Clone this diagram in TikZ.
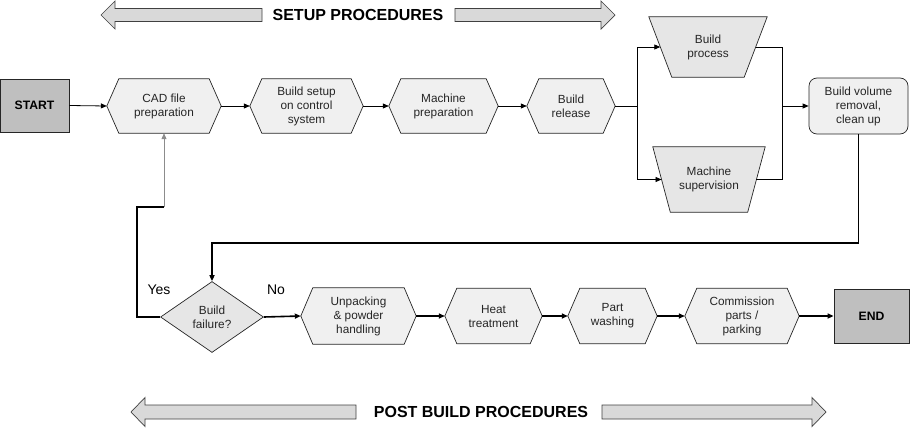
\documentclass[tikz,border=0pt]{standalone}
\usepackage{fontspec}
\setmainfont{Liberation Sans}
\usetikzlibrary{shapes.geometric,arrows.meta}
\pgfdeclarelayer{background}
\pgfsetlayers{background,main}
\definecolor{hexfill}{HTML}{F0F0F0}
\definecolor{endfill}{HTML}{BFBFBF}
\definecolor{trapfill}{HTML}{E6E6E6}
\definecolor{bigfill}{HTML}{D9D9D9}
\definecolor{bigline}{HTML}{404040}
\tikzset{
  boxtext/.style={font=\fontsize{11.8}{14}\selectfont, text=black!85, align=center, inner sep=0pt},
  hexbox/.style={boxtext, rectangle, minimum height=54pt},
  trapbox/.style={boxtext, rectangle},
  termbox/.style={rectangle, draw=black!85, fill=endfill, line width=0.8pt, font=\fontsize{12.2}{14}\selectfont\bfseries, inner sep=0pt},
  outline/.style={draw=black!85, line width=0.7pt},
  thin arrow/.style={-{Triangle[length=6pt,width=5pt]}, line width=0.8pt, black},
  thick arrow/.style={-{Triangle[length=6pt,width=5pt]}, line width=1.6pt, black},
  thick line/.style={line width=1.6pt, black},
  biglabel/.style={font=\fontsize{16}{18}\selectfont\bfseries, inner sep=0pt},
  yesno/.style={font=\fontsize{14}{16}\selectfont, inner sep=0pt},
}
\begin{document}
\begin{tikzpicture}[x=1pt,y=-1pt]
\useasboundingbox (0,0) rectangle (922,434);

% ---- big direction arrows ----
\draw[fill=bigfill, draw=bigline, line width=0.7pt]
  (101,15) -- (115,1) -- (115,8.5) -- (262,8.5) -- (262,21.5) -- (115,21.5) -- (115,29) -- cycle;
\draw[fill=bigfill, draw=bigline, line width=0.7pt]
  (615,15) -- (601,1) -- (601,8.5) -- (455,8.5) -- (455,21.5) -- (601,21.5) -- (601,29) -- cycle;
\node[biglabel] (setuplbl) at (358,15) {SETUP PROCEDURES};

\draw[fill=bigfill, draw=bigline, line width=0.7pt]
  (131,412) -- (145,397.5) -- (145,405) -- (356,405) -- (356,419) -- (145,419) -- (145,426.5) -- cycle;
\draw[fill=bigfill, draw=bigline, line width=0.7pt]
  (826,412) -- (812,397.5) -- (812,405) -- (602,405) -- (602,419) -- (812,419) -- (812,426.5) -- cycle;
\node[biglabel] (postlbl) at (481,412) {POST BUILD PROCEDURES};

% ---- top row ----
\node[termbox, minimum width=69pt, minimum height=53pt] (start) at (34.5,105.5) {START};
\node[hexbox, minimum width=114pt] (cad) at (164,106) {CAD file\\preparation};
\node[hexbox, minimum width=113pt] (setup) at (306.5,106) {Build setup\\on control\\system};
\node[hexbox, minimum width=109pt] (mprep) at (443.5,106) {Machine\\preparation};
\node[hexbox, minimum width=88pt] (release) at (571,106) {Build\\release};

\node[trapbox, minimum width=118pt, minimum height=60pt] (bp) at (708,47) {Build\\process};
\node[trapbox, minimum width=112pt, minimum height=65pt] (ms) at (709,179.5) {Machine\\supervision};

\node[boxtext, rectangle, rounded corners=8pt, outline, fill=hexfill, minimum width=99pt, minimum height=56pt] (vol) at (858.5,106) {Build volume\\removal,\\clean up};

% ---- bottom row ----
\node[diamond, outline, fill=trapfill, boxtext, minimum width=103pt, minimum height=71pt] (fail) at (212,317) {Build\\failure?};
\node[hexbox, minimum width=115pt, minimum height=56pt] (unpack) at (358.5,316) {Unpacking\\\& powder\\handling};
\node[hexbox, minimum width=97pt, minimum height=55pt] (heat) at (493.5,316) {Heat\\treatment};
\node[hexbox, minimum width=89pt, minimum height=55pt] (wash) at (612.5,316) {Part\\washing};
\node[hexbox, minimum width=114pt, minimum height=55pt] (comm) at (742,316) {Commission\\parts /\\parking};
\node[termbox, minimum width=75pt, minimum height=54pt] (end) at (871.5,316) {END};

\node[yesno] (yes) at (159,290) {Yes};
\node[yesno] (no) at (276,290) {No};

% ---- shapes behind text ----
\begin{pgfonlayer}{background}
\foreach \n in {cad,setup,mprep,release,unpack,heat,wash,comm}{
  \draw[outline, fill=hexfill] (\n.west) -- ([xshift=12pt]\n.north west) -- ([xshift=-12pt]\n.north east)
     -- (\n.east) -- ([xshift=-12pt]\n.south east) -- ([xshift=12pt]\n.south west) -- cycle;
}
\draw[outline, fill=trapfill] (bp.north west) -- (bp.north east) -- ([xshift=-23pt]bp.south east) -- ([xshift=23pt]bp.south west) -- cycle;
\draw[outline, fill=trapfill] (ms.north west) -- (ms.north east) -- ([xshift=-17.5pt]ms.south east) -- ([xshift=17.5pt]ms.south west) -- cycle;
\end{pgfonlayer}

% ---- connectors: top row ----
\draw[thin arrow] (start.east) -- (cad.west);
\draw[thin arrow] (cad.east) -- (setup.west);
\draw[thin arrow] (setup.east) -- (mprep.west);
\draw[thin arrow] (mprep.east) -- (release.west);

\coordinate (split) at (637,106);
\coordinate (join) at (782,106);
\draw[line width=0.8pt] (release.east) -- (split);
\draw[thin arrow] (split) |- ([xshift=11.5pt]bp.west);
\draw[thin arrow] (split) |- ([xshift=8.75pt]ms.west);
\draw[line width=0.8pt] ([xshift=-11.5pt]bp.east) -| (join);
\draw[line width=0.8pt] ([xshift=-8.75pt]ms.east) -| (join);
\draw[thin arrow] (join) -- (vol.west);

% ---- return path ----
\coordinate (ret) at (858.5,243);
\draw[thick arrow] (vol.south) -- (ret) -| (fail.north);

% ---- yes loop ----
\coordinate (yc) at (137,207);
\coordinate (yg) at (cad.south |- yc);
\draw[thick line] (fail.west) -| (yc) -- (yg);
\draw[-{Triangle[length=6pt,width=5pt]}, line width=0.9pt, black!45] (yg) -- (cad.south);

% ---- bottom row connectors ----
\draw[thick arrow] (fail.east) -- (unpack.west);
\draw[thick arrow] (unpack.east) -- (heat.west);
\draw[thick arrow] (heat.east) -- (wash.west);
\draw[thick arrow] (wash.east) -- (comm.west);
\draw[thick arrow] (comm.east) -- (end.west);
\end{tikzpicture}
\end{document}
